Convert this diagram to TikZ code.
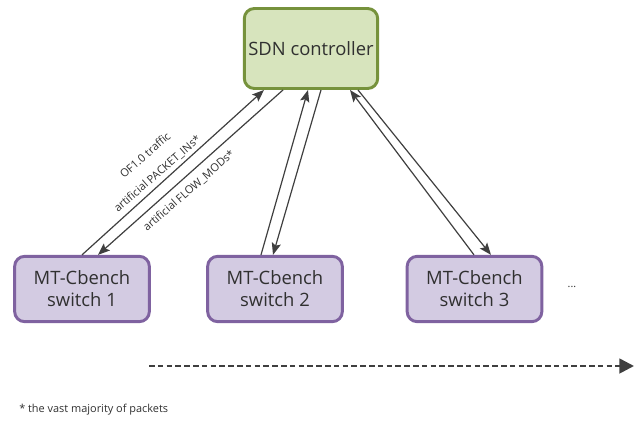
\documentclass[tikz,border=0pt]{standalone}
\usepackage{fontspec}
\setmainfont{Open Sans}
\usetikzlibrary{arrows.meta}
\definecolor{ctrlfill}{HTML}{D7E4BD}
\definecolor{ctrldraw}{HTML}{76923C}
\definecolor{swfill}{HTML}{D3CBE2}
\definecolor{swdraw}{HTML}{7F62A0}
\definecolor{arrc}{HTML}{3F3F3F}
\definecolor{txt}{HTML}{303030}
\begin{document}
\begin{tikzpicture}[x=0.75pt,y=-0.75pt,
  box/.style={rounded corners=7.5pt, line width=2.2pt, align=center, inner sep=0pt,
    font=\fontsize{13.8}{16.5}\selectfont, text=txt},
  ctrlbox/.style={box, fill=ctrlfill, draw=ctrldraw, minimum width=100pt, minimum height=60pt},
  swbox/.style={box, fill=swfill, draw=swdraw, minimum width=101pt, minimum height=49pt},
  arr/.style={draw=arrc, line width=0.9pt, -{Stealth[length=9pt,width=7pt,inset=1.8pt]}},
  lbl/.style={font=\fontsize{8.3}{9}\selectfont, text=txt, inner sep=0pt, rotate=41},
  dasharr/.style={draw=arrc, line width=2pt, dash pattern=on 4.2pt off 2.4pt,
    -{Triangle[length=11pt,width=11pt]}}]
\useasboundingbox (0,0) rectangle (635,422);
\node[ctrlbox] (ctrl) at (311,48.5) {SDN controller};
\node[swbox] (sw1) at (82,289) {MT-Cbench\\switch 1};
\node[swbox] (sw2) at (275,289) {MT-Cbench\\switch 2};
\node[swbox] (sw3) at (474.5,289) {MT-Cbench\\switch 3};
\node[font=\fontsize{8}{9}\selectfont, text=txt] (dots) at (572,287) {...};
% pair 1
\draw[arr] (sw1.north -| 82,0) -- (ctrl.south -| 264,0);
\draw[arr] (ctrl.south -| 283,0) -- (sw1.north -| 98,0);
% pair 2
\draw[arr] (sw2.north -| 261,0) -- (ctrl.south -| 308,0);
\draw[arr] (ctrl.south -| 321,0) -- (sw2.north -| 273,0);
% pair 3
\draw[arr] (sw3.north -| 474,0) -- (ctrl.south -| 350,0);
\draw[arr] (ctrl.south -| 358,0) -- (sw3.north -| 491,0);
% labels
\node[lbl] (l1) at (145,155) {OF1.0 traffic};
\node[lbl] (l2) at (157.5,174) {artificial PACKET\_INs*};
\node[lbl] (l3) at (189,191) {artificial FLOW\_MODs*};
% time arrow
\coordinate (ds) at (149,366);
\coordinate (de) at (634,366);
\draw[dasharr] (ds) -- (de);
\node[anchor=west, font=\fontsize{8.2}{9}\selectfont, text=txt, inner sep=0pt] (fn) at (19,410) {* the vast majority of packets};
\end{tikzpicture}
\end{document}
